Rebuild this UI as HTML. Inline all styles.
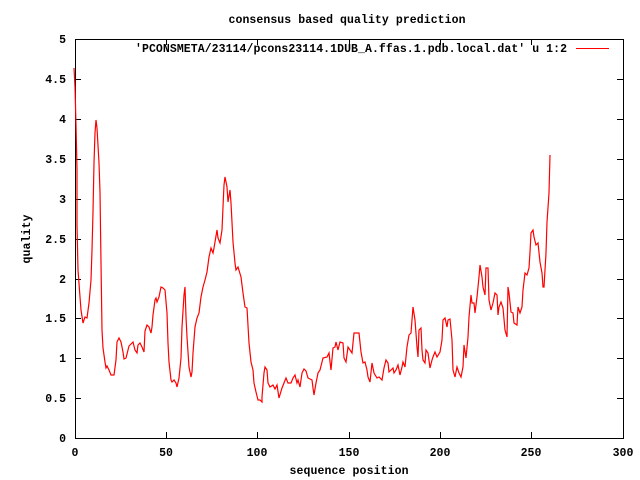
<!DOCTYPE html>
<html><head><meta charset="utf-8"><style>body{margin:0;background:#fff}svg{display:block}text{font-family:"Liberation Mono",monospace;font-size:11.5px;font-weight:bold;fill:#000}</style></head><body>
<svg width="640" height="480" xmlns="http://www.w3.org/2000/svg">
<rect width="640" height="480" fill="#fff"/>
<g stroke="#000" stroke-width="1" fill="none" shape-rendering="crispEdges">
<rect x="75.5" y="39.5" width="548" height="399"/>
<path d="M75 398.5h6M617 398.5h6M75 358.5h6M617 358.5h6M75 318.5h6M617 318.5h6M75 279.5h6M617 279.5h6M75 239.5h6M617 239.5h6M75 199.5h6M617 199.5h6M75 159.5h6M617 159.5h6M75 119.5h6M617 119.5h6M75 79.5h6M617 79.5h6"/>
<path d="M166.5 438v-6M166.5 39v6M257.5 438v-6M257.5 39v6M349.5 438v-6M349.5 39v6M440.5 438v-6M440.5 39v6M531.5 438v-6M531.5 39v6"/>
</g>
<g text-anchor="end">
<text x="66" y="442">0</text><text x="66" y="402">0.5</text><text x="66" y="362">1</text><text x="66" y="322">1.5</text><text x="66" y="283">2</text><text x="66" y="243">2.5</text><text x="66" y="203">3</text><text x="66" y="163">3.5</text><text x="66" y="123">4</text><text x="66" y="83">4.5</text><text x="66" y="43">5</text>
</g>
<g text-anchor="middle">
<text x="75" y="456">0</text><text x="166" y="456">50</text><text x="257" y="456">100</text><text x="349" y="456">150</text><text x="440" y="456">200</text><text x="531" y="456">250</text><text x="623" y="456">300</text>
<text x="347" y="23" textLength="237">consensus based quality prediction</text>
<text x="349" y="474" textLength="119">sequence position</text>
<text transform="translate(30,239) rotate(-90)" textLength="49">quality</text>
</g>
<text x="135" y="52" textLength="432">'PCONSMETA/23114/pcons23114.1DUB_A.ffas.1.pdb.local.dat' u 1:2</text>
<path d="M576 48.5h33" stroke="#f00" stroke-width="1"/>
<polyline fill="none" stroke="#f00" stroke-width="1.2" points="74,68 75,87 76,125 77,170 77,225 78,270 80,297 81,310 83,323 85,317 87,318 89,303 91,280 92,250 93,212 94,163 95,133 96,120 97,128 99,163 100,192 101,263 102,330 103,348 105,362 106,368 107,366 109,370 111,375 114,375 116,360 117,342 119,338 121,342 123,352 124,359 126,358 128,350 129,346 132,343 133,342 135,350 137,353 138,345 140,343 142,347 144,352 145,331 147,325 149,327 151,333 152,327 153,315 155,300 156,298 157,302 159,297 161,287 163,288 165,290 167,313 168,343 169,362 171,380 172,382 174,380 176,383 177,387 179,378 181,358 182,327 184,295 185,287 186,317 187,337 189,367 191,377 192,372 193,353 195,327 197,318 199,313 201,297 203,287 205,280 207,272 209,257 211,248 213,253 214,248 217,230 218,238 220,243 222,230 223,207 224,185 225,177 227,187 228,202 230,190 231,203 233,242 235,263 236,270 238,267 241,277 243,293 245,307 247,308 249,343 251,362 253,370 254,383 256,392 258,400 260,400 262,402 262,397 264,373 265,367 267,370 268,383 270,387 273,385 275,389 277,385 279,398 282,388 284,383 286,378 288,383 291,383 293,378 295,375 297,383 298,380 300,387 302,373 304,369 306,371 308,378 312,380 313,388 314,395 316,383 318,373 320,370 322,362 323,358 327,357 329,353 331,370 333,348 335,347 336,342 338,350 340,342 343,343 344,358 346,362 348,347 350,350 352,353 354,333 357,333 359,333 361,352 363,363 365,362 367,370 368,377 370,382 372,363 374,373 377,378 379,377 382,380 384,368 386,360 388,363 389,372 391,370 393,368 394,373 396,370 398,365 400,375 402,367 403,362 405,367 407,347 409,335 411,333 412,320 413,307 415,320 417,347 418,357 419,330 421,328 422,350 423,360 425,363 426,350 428,353 430,368 432,360 433,357 435,352 437,357 440,352 442,340 443,320 445,318 447,327 448,320 450,319 452,340 453,370 455,377 457,367 459,373 461,377 463,367 464,345 466,358 468,337 469,317 471,295 472,303 474,303 475,313 477,297 479,277 480,265 482,277 483,287 485,295 486,268 488,268 489,300 491,310 493,303 495,293 497,295 498,315 499,307 501,302 503,308 505,330 507,337 508,287 509,293 511,312 513,313 514,323 517,325 518,307 520,313 522,307 523,290 525,273 527,275 529,268 530,252 531,233 533,230 534,237 536,245 538,243 540,262 542,273 543,287 544,287 546,253 547,222 549,193 550,155"/>
</svg>
</body></html>
